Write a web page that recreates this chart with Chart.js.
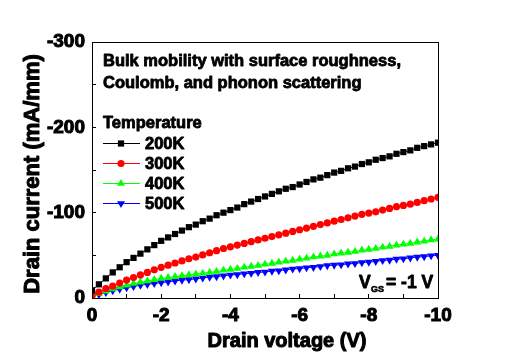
<!DOCTYPE html>
<html><head><meta charset="utf-8">
<script src="https://cdn.jsdelivr.net/npm/chart.js@4/dist/chart.umd.min.js"></script>
<style>html,body{margin:0;padding:0;background:#fff}#wrap{width:512px;height:362px;position:relative}</style>
</head><body><div id="wrap"><canvas id="c" width="512" height="362"></canvas></div>
<script>
const drainVoltage = [0,-0.2,-0.4,-0.6,-0.8,-1,-1.2,-1.4,-1.6,-1.8,-2,-2.2,-2.4,-2.6,-2.8,-3,-3.2,-3.4,-3.6,-3.8,-4,-4.2,-4.4,-4.6,-4.8,-5,-5.2,-5.4,-5.6,-5.8,-6,-6.2,-6.4,-6.6,-6.8,-7,-7.2,-7.4,-7.6,-7.8,-8,-8.2,-8.4,-8.6,-8.8,-9,-9.2,-9.4,-9.6,-9.8,-10];
const temperatures = ['200K','300K','400K','500K'];
const current200K = [-9,-16,-23,-30,-36,-42,-47,-52,-57,-62,-67,-71,-75,-79,-83,-86,-90,-93,-97,-100,-103,-106,-110,-113,-116,-119,-122,-125,-128,-130,-133,-136,-139,-141,-144,-147,-149,-152,-154,-157,-159,-162,-164,-166,-169,-171,-173,-176,-178,-180,-182];
const current300K = [-3,-7,-11,-14,-17.5,-21,-24,-27,-30,-33,-36,-38.5,-41,-43.5,-46,-48,-50.5,-53,-55.5,-58,-60,-62,-64,-66,-68,-70,-72,-74,-76,-78,-80,-82,-84,-86,-88,-90,-92,-94,-96,-98,-99.5,-101,-103,-105,-107,-108.5,-110,-112,-114,-116,-118];
const current400K = [-2,-5,-8,-10.5,-13,-15,-17,-18.5,-20,-21.5,-23,-24,-25,-26,-27,-28,-29,-30,-31,-32.5,-33.5,-34.5,-36,-37,-38,-39.5,-40.5,-42,-43,-44,-45.5,-46.5,-48,-49,-50,-51.5,-52.5,-53.5,-54.5,-56,-57,-58,-59.5,-60.5,-62,-63,-64,-65.5,-66.5,-68,-69];
const current500K = [-1,-4,-6.5,-8.5,-10.5,-12,-13.5,-15,-16,-17,-18,-19,-20,-21,-21.5,-22.5,-23.5,-24.5,-25,-26,-27,-27.5,-28.5,-29,-30,-30.5,-31.5,-32,-33,-34,-34.5,-35.5,-36,-37,-38,-38.5,-39,-40,-40.5,-41.5,-42,-43,-44,-44.5,-45.5,-46,-47,-48,-48.5,-49.5,-50];
const xTickLabels = ['0','-2','-4','-6','-8','-10'];
const yTickLabels = ['0','-100','-200','-300'];
const noteLines = ['Bulk mobility with surface roughness,', 'Coulomb, and phonon scattering'];
const legendTitle = 'Temperature';
const xTitle = 'Drain voltage (V)';
const yTitle = 'Drain current (mA/mm)';

const FONT = "'Liberation Sans', Arial, sans-serif";
const series = [
  {label: temperatures[0], data: current200K, color: '#000000', style: 'rect', r: 4.4, rot: 0},
  {label: temperatures[1], data: current300K, color: '#ff0000', style: 'circle', r: 3.6, rot: 0},
  {label: temperatures[2], data: current400K, color: '#00ff00', style: 'triangle', r: 4.6, rot: 0},
  {label: temperatures[3], data: current500K, color: '#0000ff', style: 'triangle', r: 4.6, rot: 180}
];
const datasets = series.map(s => ({
  label: s.label,
  data: drainVoltage.map((v, i) => ({x: v, y: s.data[i]})),
  borderColor: s.color, backgroundColor: s.color, borderWidth: 1,
  pointStyle: s.style, pointRadius: s.r, pointRotation: s.rot,
  pointBorderWidth: 0, pointBackgroundColor: s.color, pointBorderColor: s.color,
  tension: 0
}));

function tickLabel(list, value) {
  const s = String(Math.abs(value) < 1e-9 ? 0 : Math.round(value * 1000) / 1000);
  return list.includes(s) ? s : '';
}

function heavyText(ctx, text, x, y, sw) {
  ctx.lineWidth = sw; ctx.strokeStyle = '#000'; ctx.lineJoin = 'round';
  ctx.strokeText(text, x, y);
  ctx.fillText(text, x, y);
}

const overlay = {
  id: 'overlay',
  afterDraw(chart) {
    const ctx = chart.ctx, a = chart.chartArea;
    ctx.save();
    ctx.strokeStyle = '#000'; ctx.lineWidth = 1;
    ctx.strokeRect(Math.round(a.left) + 0.5, Math.round(a.top) + 0.5, Math.round(a.right - a.left), Math.round(a.bottom - a.top));
    ctx.fillStyle = '#000';
    ctx.textBaseline = 'alphabetic'; ctx.textAlign = 'left';
    ctx.font = 'bold 16.5px ' + FONT;
    heavyText(ctx, noteLines[0], 103, 66, 0.8);
    heavyText(ctx, noteLines[1], 103, 88, 0.8);
    heavyText(ctx, legendTitle, 103, 128, 0.8);
    const ys = [143, 163, 183, 203];
    series.forEach((s, i) => {
      const y = ys[i];
      ctx.strokeStyle = s.color; ctx.lineWidth = 1;
      ctx.beginPath(); ctx.moveTo(103, y + 0.5); ctx.lineTo(140, y + 0.5); ctx.stroke();
      ctx.fillStyle = s.color;
      Chart.helpers.drawPoint(ctx, {pointStyle: s.style, radius: s.r, rotation: s.rot, borderWidth: 0}, 121, y + 0.5);
      ctx.fillStyle = '#000';
      ctx.textBaseline = 'middle';
      ctx.font = 'bold 16.5px ' + FONT;
      heavyText(ctx, s.label, 145, y + 1, 0.8);
    });
    ctx.textBaseline = 'alphabetic';
    ctx.font = 'bold 17.5px ' + FONT;
    heavyText(ctx, 'V', 359, 288, 0.8);
    ctx.font = 'bold 9px ' + FONT;
    heavyText(ctx, 'GS', 371, 292, 0.6);
    ctx.font = 'bold 17.5px ' + FONT;
    heavyText(ctx, '= -1 V', 386, 288, 0.8);
    // axis titles
    ctx.font = 'bold 20px ' + FONT;
    ctx.textAlign = 'center'; ctx.textBaseline = 'middle';
    heavyText(ctx, xTitle, 287, 341, 1);
    ctx.save();
    ctx.translate(33, 174);
    ctx.rotate(-Math.PI / 2);
    ctx.font = 'bold 22px ' + FONT;
    heavyText(ctx, yTitle, 0, 0, 1);
    ctx.restore();
    ctx.restore();
  }
};

new Chart(document.getElementById('c'), {
  type: 'line',
  data: {datasets},
  plugins: [overlay],
  options: {
    responsive: false, devicePixelRatio: 1, animation: false,
    layout: {padding: {left: 0, right: 74, top: 42, bottom: 0}},
    plugins: {legend: {display: false}, tooltip: {enabled: false}, title: {display: false}},
    scales: {
      x: {
        type: 'linear', min: -10, max: 0, reverse: true, position: 'bottom',
        afterFit(s) { s.height = 64; },
        border: {display: true, color: '#000', width: 1},
        grid: {display: true, drawOnChartArea: false, drawTicks: true, tickLength: -4, color: '#000', lineWidth: 1},
        ticks: {stepSize: 1, autoSkip: false, maxRotation: 0, padding: 10, color: '#000',
          textStrokeWidth: 1, textStrokeColor: '#000',
          font: {family: FONT, weight: 'bold', size: 19},
          callback: v => tickLabel(xTickLabels, v)}
      },
      y: {
        type: 'linear', min: -300, max: 0, reverse: true, position: 'left',
        afterFit(s) { s.width = 92; },
        border: {display: true, color: '#000', width: 1},
        grid: {display: true, drawOnChartArea: false, drawTicks: true, tickLength: -4, color: '#000', lineWidth: 1},
        ticks: {stepSize: 50, autoSkip: false, padding: 11, color: '#000',
          textStrokeWidth: 1, textStrokeColor: '#000',
          font: {family: FONT, weight: 'bold', size: 19},
          callback: v => tickLabel(yTickLabels, v)}
      }
    }
  }
});
</script></body></html>
